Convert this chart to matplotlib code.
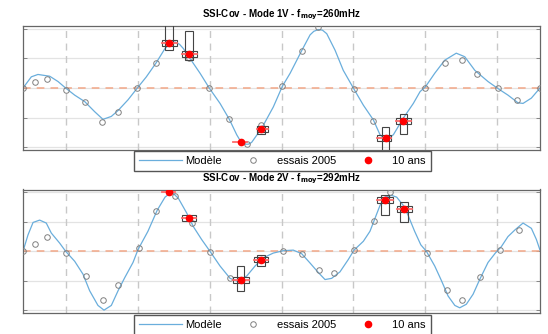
import numpy as np
import matplotlib
matplotlib.use('Agg')
import matplotlib.pyplot as plt
from matplotlib.patches import Rectangle

plt.rcParams['font.family'] = ['Liberation Sans', 'DejaVu Sans']

# piers / supports (m)
piles = [30, 80, 130, 180, 230, 280, 330]

# ---- mode 1V ----
titre1 = 'SSI-Cov - Mode 1V - f$_{\\mathbf{moy}}$=260mHz'
mod1_x = [0, 5.8, 10.4, 18.6, 24.4, 29.7, 36, 43, 49.9, 55.7, 61.5, 66.2, 73.1, 79.6, 85.9,
          92.8, 98.9, 102.5, 105.8, 109, 111.6, 116.3, 123.3, 129.7, 137.2, 143.7, 148.8,
          151.5, 154.6, 157, 159.2, 166.2, 174.3, 180.6, 186, 194, 199.9, 202.5, 205.6,
          208.5, 211.5, 217.3, 223, 230.5, 237, 244, 248.6, 252.8, 257.9, 264.8, 271.8,
          276.5, 280.2, 286.7, 293.6, 301.7, 307.6, 314.6, 323.8, 330.8, 337.7, 344.7,
          348.2, 354, 360]
mod1_y = [0, 0.19, 0.23, 0.20, 0.11, 0, -0.12, -0.23, -0.40, -0.53, -0.48, -0.38, -0.20, 0,
          0.19, 0.43, 0.67, 0.75, 0.78, 0.74, 0.67, 0.50, 0.25, 0, -0.26, -0.53, -0.79,
          -0.90, -0.95, -0.95, -0.92, -0.68, -0.32, 0.03, 0.25, 0.63, 0.90, 0.96, 0.99,
          0.98, 0.92, 0.64, 0.30, -0.02, -0.29, -0.54, -0.79, -0.88, -0.79, -0.51, -0.26,
          -0.06, 0.02, 0.25, 0.47, 0.59, 0.53, 0.30, 0.11, -0.01, -0.12, -0.25, -0.26,
          -0.17, 0]
ess1_x = [0, 8.6, 16.7, 29.7, 43.4, 54.8, 66.4, 79.6, 92.8, 101.7, 115.6, 129.7, 143.7, 155.8,
          165.7, 180.6, 194, 205.6, 230.5, 244, 252.6, 264.8, 280.2, 294.1, 305.7, 316.4,
          330.8, 343.8, 360]
ess1_y = [0, 0.10, 0.16, -0.03, -0.23, -0.57, -0.40, 0.0, 0.43, 0.77, 0.50, 0.0, -0.53, -0.95,
          -0.63, 0.03, 0.63, 1.03, -0.02, -0.55, -0.85, -0.55, 0.0, 0.43, 0.47, 0.23, 0.0,
          -0.21, 0.0]
ans1_x = [101.7, 115.6, 151.6, 165.7, 252.6, 264.8]
ans1_y = [0.77, 0.57, -0.92, -0.70, -0.85, -0.55]
ans1_xlo = [96.6, 110.5, 146.5, 162.7, 246.3, 260.0]
ans1_xhi = [107.0, 121.0, 156.0, 170.8, 256.3, 270.2]
ans1_ylo = [0.64, 0.47, np.nan, -0.77, -1.15, -0.77]
ans1_yhi = [1.10, 0.96, np.nan, -0.64, -0.66, -0.44]
ans1_box = [True, True, False, True, True, True]

# ---- mode 2V ----
titre2 = 'SSI-Cov - Mode 2V - f$_{\\mathbf{moy}}$=292mHz'
mod2_x = [0, 3.5, 7, 11.6, 16.2, 19.7, 25.5, 29.7, 36, 41.8, 46.4, 52.2, 56.4, 61.5, 66.2,
          70.8, 76.6, 80.1, 87, 93.5, 98.9, 103.5, 108.2, 114, 118.6, 124.4, 130.2, 137.2,
          144.2, 149.2, 155.8, 161.6, 167.4, 174.3, 181.3, 188.2, 194, 199.9, 205.6, 210.3,
          214.9, 220.7, 226.5, 230.5, 237, 241.6, 245.1, 248.6, 252.1, 256.7, 260.2, 264.8,
          268, 272.7, 277, 280.9, 286.7, 291.4, 296, 300.7, 304.1, 308.7, 313.4, 318,
          323.8, 328.9, 333.1, 337.7, 342.4, 348.2, 354, 357.5, 360]
mod2_y = [0, 0.28, 0.49, 0.53, 0.48, 0.31, 0.14, 0, -0.17, -0.39, -0.67, -0.92, -1.0, -0.92,
          -0.67, -0.45, -0.19, 0.03, 0.34, 0.70, 0.92, 1.01, 0.90, 0.65, 0.42, 0.20, 0,
          -0.25, -0.46, -0.51, -0.42, -0.25, -0.11, -0.03, 0.01, 0.02, -0.04, -0.20, -0.36,
          -0.48, -0.46, -0.35, -0.14, 0.02, 0.17, 0.34, 0.56, 0.78, 0.92, 0.95, 0.92, 0.78,
          0.62, 0.34, 0.11, 0, -0.25, -0.50, -0.76, -0.92, -0.96, -0.90, -0.73, -0.48,
          -0.19, -0.03, 0.08, 0.25, 0.36, 0.48, 0.39, 0.20, 0.02]
ess2_x = [0, 8.6, 16.7, 29.7, 43.6, 55.7, 66.4, 80.5, 92.8, 105.8, 117.5, 130.2, 144.2, 181.3,
          194, 206.3, 216.8, 230.5, 244.6, 255.6, 281.3, 295.3, 305.9, 318, 332, 345.4]
ess2_y = [0, 0.12, 0.24, -0.03, -0.42, -0.82, -0.58, 0.05, 0.68, 0.94, 0.48, -0.01, -0.46,
          0.01, -0.04, -0.32, -0.37, 0.02, 0.51, 1.0, -0.03, -0.66, -0.83, -0.43, 0.03, 0.36]
ans2_x = [101.7, 115.6, 151.6, 165.7, 252.1, 265.3]
ans2_y = [1.0, 0.56, -0.49, -0.14, 0.87, 0.72]
ans2_xlo = [96.6, 110.5, 146.5, 160.8, 246.7, 260.2]
ans2_xhi = [105.8, 120.5, 157.6, 170.8, 257.8, 270.7]
ans2_ylo = [np.nan, np.nan, -0.68, -0.25, 0.62, 0.49]
ans2_yhi = [np.nan, np.nan, -0.25, -0.07, 0.95, 0.84]
ans2_box = [False, True, True, True, True, True]

modes = [
    (titre1, mod1_x, mod1_y, ess1_x, ess1_y, ans1_x, ans1_y, ans1_xlo, ans1_xhi, ans1_ylo, ans1_yhi, ans1_box),
    (titre2, mod2_x, mod2_y, ess2_x, ess2_y, ans2_x, ans2_y, ans2_xlo, ans2_xhi, ans2_ylo, ans2_yhi, ans2_box),
]

W, H = 548, 334
fig = plt.figure(figsize=(W / 100, H / 100), dpi=100)
ax_pos = [(23, 26, 540, 149.5), (23, 189.5, 540, 312.5)]
leg_top = [151, 314.5]

for k, (titre, mx, my, ex, ey, ax_, ay_, xlo, xhi, ylo, yhi, hasbox) in enumerate(modes):
    x0, y0, x1, y1 = ax_pos[k]
    ax = fig.add_axes([x0 / W, 1 - y1 / H, (x1 - x0) / W, (y1 - y0) / H])
    ax.set_xlim(0, 360)
    ax.set_ylim(-1.04, 1.05)
    ax.set_yticks([-1, -0.5, 0, 0.5, 1])
    ax.set_yticklabels([])
    ax.set_xticks([])
    ax.yaxis.grid(True, color='#e3e3e3', lw=0.9)
    ax.set_axisbelow(True)
    ax.tick_params(axis='y', direction='in', left=True, right=True, length=3,
                   width=0.6, color='#777777')
    for s in ax.spines.values():
        s.set_color('#666666')
        s.set_linewidth(0.9)

    for p in piles:
        ax.axvline(p, color='#c8c8c8', lw=1.0, ls=(0, (5, 4)), zorder=1)
    ax.axhline(0, color='#f2a787', lw=1.1, ls=(0, (5, 4)), zorder=1.5)

    l_mod, = ax.plot(mx, my, color='#6aaedc', lw=0.9, zorder=2, label='Modèle')
    l_ess, = ax.plot(ex, ey, 'o', ls='none', mfc='none', mec='#808080', ms=4, mew=0.7,
                     zorder=3, label='essais 2005')

    for i in range(len(ax_)):
        xc, yc = ax_[i], ay_[i]
        if hasbox[i]:
            ax.add_patch(Rectangle((xlo[i], yc - 0.05), xhi[i] - xlo[i], 0.10,
                                   fill=False, ec='#444444', lw=0.8, zorder=4))
        if not np.isnan(ylo[i]):
            ax.add_patch(Rectangle((xc - 2.6, ylo[i]), 5.2, yhi[i] - ylo[i],
                                   fill=False, ec='#444444', lw=0.8, zorder=4))
        ax.plot([xlo[i], xhi[i]], [yc, yc], color='#ff6b6b', lw=1.3, zorder=5)
    l_ans, = ax.plot(ax_, ay_, 'o', ls='none', color='#ff0000', ms=4.5, zorder=6,
                     label='10 ans')

    ax.set_title(titre, fontsize=7, fontweight='bold', pad=6)

    ax.legend(handles=[l_mod, l_ess, l_ans], loc='upper center', ncol=3,
              bbox_to_anchor=(282.5 / W, 1 - leg_top[k] / H), bbox_transform=fig.transFigure,
              fontsize=8, handlelength=3.8, handletextpad=0.3, columnspacing=0.9,
              borderpad=0.45, borderaxespad=0, numpoints=1, fancybox=False,
              edgecolor='#555555', framealpha=1)

fig.savefig('out.png', dpi=100)
